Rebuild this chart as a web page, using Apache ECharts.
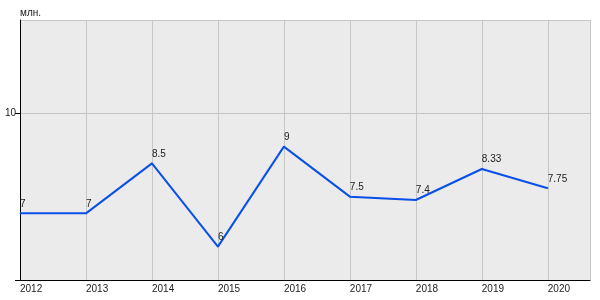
<!DOCTYPE html>
<html><head><meta charset="utf-8">
<script src="https://cdn.jsdelivr.net/npm/echarts@6/dist/echarts.min.js"></script>
<style>html,body{margin:0;padding:0;background:#fff}#c{width:600px;height:300px}</style>
</head><body><div id="c"></div>
<script>
const years = [2012, 2013, 2014, 2015, 2016, 2017, 2018, 2019, 2020];
const values = [7, 7, 8.5, 6, 9, 7.5, 7.4, 8.33, 7.75];
const yUnit = 'млн.';

const chart = echarts.init(document.getElementById('c'), null, {renderer: 'canvas'});
chart.setOption({
  animation: false,
  backgroundColor: '#ffffff',
  textStyle: {fontFamily: 'Liberation Sans, Arial, sans-serif'},
  grid: {left: 20, top: 20, right: 10, bottom: 20, show: true, backgroundColor: '#ebebeb', borderWidth: 0,
         containLabel: false, outerBoundsMode: 'none'},
  xAxis: {
    type: 'value', min: 2012, max: 2020.64, interval: 1,
    axisLine: {show: true, onZero: false, lineStyle: {color: '#000', width: 1}},
    axisTick: {show: false},
    splitLine: {show: true, lineStyle: {color: '#c6c6c6', width: 1}},
    axisLabel: {
      color: '#222', fontSize: 10, margin: 4, align: 'left',
      formatter: v => (Number.isInteger(v) ? String(v) : ''),
      showMaxLabel: false
    }
  },
  yAxis: {
    type: 'value', min: 5, max: 12.8, interval: 5,
    name: yUnit, nameLocation: 'end', nameGap: 2,
    nameTextStyle: {color: '#222', fontSize: 10, align: 'left'},
    axisLine: {show: true, lineStyle: {color: '#000', width: 1}},
    axisTick: {show: true, length: 5, lineStyle: {color: '#000'}},
    splitLine: {show: true, lineStyle: {color: '#c6c6c6', width: 1}},
    axisLabel: {
      color: '#222', fontSize: 10, margin: 4,
      formatter: v => (v === 5 ? '' : String(v)),
      showMaxLabel: false
    }
  },
  series: [{
    type: 'line',
    data: years.map((y, i) => [y, values[i]]),
    symbol: 'circle', symbolSize: 1,
    itemStyle: {color: '#0a4fe8'},
    lineStyle: {color: '#0a4fe8', width: 2},
    label: {
      show: true, position: 'top', align: 'left', distance: 4,
      color: '#222', fontSize: 10,
      formatter: p => String(p.value[1])
    }
  }]
});
</script></body></html>
